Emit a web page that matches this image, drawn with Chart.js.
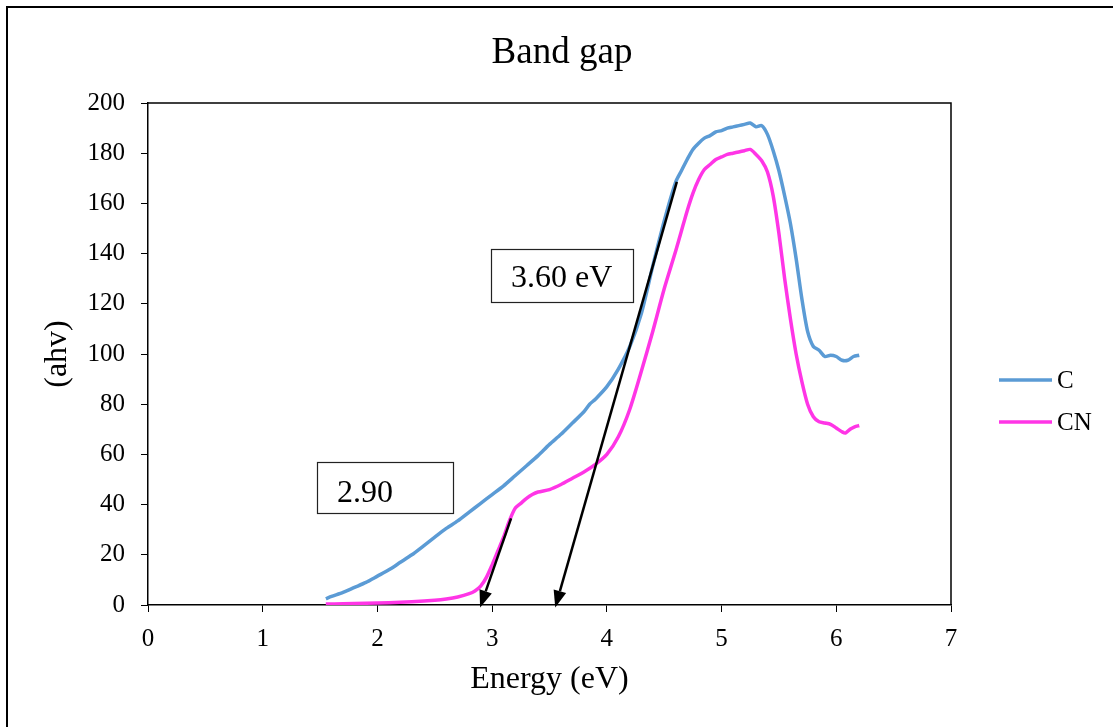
<!DOCTYPE html>
<html>
<head>
<meta charset="utf-8">
<title>Band gap</title>
<script src="https://cdn.jsdelivr.net/npm/chart.js@4.4.1/dist/chart.umd.min.js"></script>
<style>
  html, body { margin: 0; padding: 0; background: #fff; }
  #wrap { width: 1113px; height: 727px; }
</style>
</head>
<body>
<div id="wrap"><canvas id="chart" width="1113" height="727"></canvas></div>
<script>
// series C
const energyC = [1.55, 1.6, 1.7, 1.8, 1.9, 2.0, 2.1, 2.2, 2.3, 2.4, 2.5, 2.6, 2.7, 2.8, 2.9, 3.0,
  3.1, 3.2, 3.3, 3.4, 3.5, 3.6, 3.7, 3.8, 3.85, 3.9, 4.0, 4.1, 4.2, 4.3, 4.4, 4.5, 4.6, 4.65,
  4.7, 4.75, 4.8, 4.85, 4.9, 4.95, 5.0, 5.05, 5.1, 5.15, 5.2, 5.25, 5.3, 5.35, 5.4, 5.45, 5.5,
  5.55, 5.6, 5.65, 5.7, 5.75, 5.8, 5.85, 5.9, 5.95, 6.0, 6.05, 6.1, 6.15, 6.2];
const valueC = [2.5, 3.4, 5, 7, 9, 11.5, 14, 17, 20, 23.5, 27, 30.5, 33.5, 37, 40.5, 44,
  47.5, 51.5, 55.5, 59.5, 64, 68, 72.5, 77, 80, 82, 87, 94, 103, 116, 135, 153, 168.5, 173,
  177.5, 181.5, 184, 186, 187, 188.5, 189, 190, 190.5, 191, 191.5, 192, 190.5, 191, 187.5, 181, 173,
  163, 152, 138, 122, 109, 103, 101.5, 99, 99.5, 99, 97.5, 97.5, 99, 99.5];

// series CN
const energyCN = [1.55, 1.7, 1.9, 2.1, 2.3, 2.5, 2.6, 2.7, 2.8, 2.85, 2.9, 2.95, 3.0, 3.05, 3.1,
  3.15, 3.2, 3.25, 3.3, 3.35, 3.4, 3.5, 3.6, 3.7, 3.8, 3.9, 4.0, 4.1, 4.2, 4.3, 4.4, 4.5, 4.6,
  4.65, 4.7, 4.75, 4.8, 4.85, 4.9, 4.95, 5.0, 5.05, 5.1, 5.15, 5.2, 5.25, 5.3, 5.35, 5.4, 5.45,
  5.5, 5.55, 5.6, 5.65, 5.7, 5.75, 5.8, 5.85, 5.9, 5.95, 6.0, 6.05, 6.08, 6.12, 6.16, 6.2];
const valueCN = [0.4, 0.5, 0.7, 0.9, 1.3, 1.9, 2.4, 3.2, 4.5, 5.6, 7.5, 11, 16, 21.5, 27,
  33.5, 38.5, 40.5, 42.5, 44, 45, 46, 48, 50.5, 53, 56, 60, 67, 78, 93, 109, 126, 141,
  149, 157, 164, 169.5, 173.5, 175.5, 177.5, 178.5, 179.5, 180, 180.5, 181, 181.5, 179.5, 177, 172.5, 163,
  148, 130, 114, 100, 89, 80, 75, 73, 72.5, 72, 70.5, 69, 68.5, 70, 71, 71.5];

const seriesNames = ['C', 'CN'];

// tangent lines for the band gap (energy, ahv): start and arrow tip
const arrowStart = [[3.165, 34.5], [4.61, 168.6]];
const arrowTip = [[2.895, -1], [3.55, -1]];
const gapLabels = ['3.60 eV', '2.90'];

const FONT = "'Liberation Serif', 'Times New Roman', serif";
const colors = ['#5b9bd5', '#ff35e6'];

const toPoints = (xs, ys) => xs.map((x, i) => ({ x: x, y: ys[i] }));

const decor = {
  id: 'decor',
  afterDraw(chart) {
    const ctx = chart.ctx;
    const area = chart.chartArea;
    const xs = chart.scales.x;
    const ys = chart.scales.y;
    ctx.save();

    // outer frame (top and left edges visible)
    ctx.strokeStyle = '#000';
    ctx.lineWidth = 2;
    ctx.beginPath();
    ctx.moveTo(7, 727);
    ctx.lineTo(7, 7);
    ctx.lineTo(1113, 7);
    ctx.stroke();

    // plot area top / right border
    ctx.lineWidth = 1.5;
    ctx.beginPath();
    ctx.moveTo(area.left, area.top);
    ctx.lineTo(area.right, area.top);
    ctx.lineTo(area.right, area.bottom);
    ctx.stroke();

    // arrows
    ctx.fillStyle = '#000';
    ctx.lineWidth = 2.5;
    arrowStart.forEach((s, i) => {
      const x0 = xs.getPixelForValue(s[0]), y0 = ys.getPixelForValue(s[1]);
      const x1 = xs.getPixelForValue(arrowTip[i][0]), y1 = ys.getPixelForValue(arrowTip[i][1]);
      const ang = Math.atan2(y1 - y0, x1 - x0);
      const len = 17, half = 6.5;
      const bx = x1 - len * Math.cos(ang), by = y1 - len * Math.sin(ang);
      ctx.beginPath();
      ctx.moveTo(x0, y0);
      ctx.lineTo(bx, by);
      ctx.stroke();
      ctx.beginPath();
      ctx.moveTo(x1, y1);
      ctx.lineTo(bx + half * Math.sin(ang), by - half * Math.cos(ang));
      ctx.lineTo(bx - half * Math.sin(ang), by + half * Math.cos(ang));
      ctx.closePath();
      ctx.fill();
    });

    // label boxes (pixel layout)
    const boxes = [
      { x: 491, y: 249, w: 142, h: 53, tx: 511, ty: 287 },
      { x: 317, y: 462, w: 136, h: 51, tx: 337, ty: 502 }
    ];
    ctx.font = '32px ' + FONT;
    ctx.textAlign = 'left';
    ctx.textBaseline = 'alphabetic';
    boxes.forEach((b, i) => {
      ctx.fillStyle = '#fff';
      ctx.fillRect(b.x, b.y, b.w, b.h);
      ctx.strokeStyle = '#222';
      ctx.lineWidth = 1.2;
      ctx.strokeRect(b.x + 0.5, b.y + 0.5, b.w, b.h);
      ctx.fillStyle = '#000';
      ctx.fillText(gapLabels[i], b.tx, b.ty);
    });

    // title
    ctx.font = '37px ' + FONT;
    ctx.textAlign = 'center';
    ctx.fillText('Band gap', 562, 63);

    // legend
    ctx.font = '25px ' + FONT;
    ctx.textAlign = 'left';
    ctx.textBaseline = 'middle';
    seriesNames.forEach((name, i) => {
      const y = 380 + i * 42;
      ctx.strokeStyle = colors[i];
      ctx.lineWidth = 3.5;
      ctx.beginPath();
      ctx.moveTo(999, y);
      ctx.lineTo(1052, y);
      ctx.stroke();
      ctx.fillStyle = '#000';
      ctx.fillText(name, 1057, y + 1);
    });
    ctx.restore();
  }
};

new Chart(document.getElementById('chart'), {
  type: 'line',
  data: {
    datasets: [
      { label: seriesNames[0], data: toPoints(energyC, valueC), borderColor: colors[0],
        borderWidth: 3.5, pointRadius: 0, tension: 0.25, fill: false },
      { label: seriesNames[1], data: toPoints(energyCN, valueCN), borderColor: colors[1],
        borderWidth: 3.5, pointRadius: 0, tension: 0.25, fill: false }
    ]
  },
  options: {
    responsive: false,
    animation: false,
    layout: { padding: { top: 103, right: 162, left: 0, bottom: 0 } },
    plugins: {
      legend: { display: false },
      title: { display: false },
      tooltip: { enabled: false }
    },
    scales: {
      x: {
        type: 'linear', min: 0, max: 7,
        ticks: { stepSize: 1, color: '#000', font: { family: FONT, size: 25 }, padding: 12 },
        grid: { drawOnChartArea: false, color: '#000', tickLength: 7, lineWidth: 1 },
        border: { color: '#000', width: 1.5 },
        title: { display: true, text: 'Energy (eV)', color: '#000',
          font: { family: FONT, size: 32 }, padding: { top: 0, bottom: 28 } },
        afterFit: s => { s.height = 122; }
      },
      y: {
        min: 0, max: 200,
        ticks: { stepSize: 20, color: '#000', font: { family: FONT, size: 25 }, padding: 16 },
        grid: { drawOnChartArea: false, color: '#000', tickLength: 7, lineWidth: 1 },
        border: { color: '#000', width: 1.5 },
        title: { display: true, text: '(ahv)', color: '#000',
          font: { family: FONT, size: 32 }, padding: { top: 38, bottom: 0 } },
        afterFit: s => { s.width = 148; }
      }
    }
  },
  plugins: [decor]
});
</script>
</body>
</html>
